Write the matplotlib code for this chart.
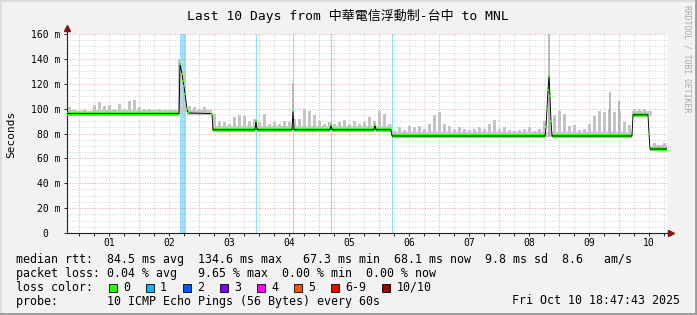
"""
Smokeping style latency graph: Last 10 Days, 中華電信浮動制-台中 -> MNL
Median rtt line, ping smoke, loss markers and the rrdtool style legend.
"""
import numpy as np
import matplotlib
matplotlib.use("Agg")
import matplotlib.pyplot as plt
from matplotlib.patches import Rectangle
from matplotlib.lines import Line2D

W, H = 697, 315
MONO = ["DejaVu Sans Mono", "Noto Sans CJK TC"]

# --- time axis: hours since graph start, 240 h = 10 days
first_midnight_h = 4.8
day_labels = ["01", "02", "03", "04", "05", "06", "07", "08", "09", "10"]

# --- median rtt (ms), breakpoints
med_h = [0, 44.8, 45.2, 46.0, 46.4, 46.8, 47.2, 48.0, 48.4, 58.0, 58.4,
         75.2, 75.6, 76.0, 90.0, 90.4, 90.8, 105.2, 105.6, 106.0,
         122.8, 123.2, 123.6, 129.6, 130.0, 191.2, 191.6, 192.0, 192.4,
         192.8, 193.2, 193.6, 194.0, 226.0, 226.4, 232.4, 232.8, 233.2, 240]
med_ms = [96, 96, 136, 128, 122, 118, 112, 100, 96.5, 96, 83,
          83, 90, 83, 83, 98, 83, 83, 87, 83,
          83, 87, 83, 83, 78, 78, 85, 100, 115,
          126, 110, 90, 78, 78, 95, 95, 80, 67.5, 67.5]

# --- smoke (spread of the 10 pings), 2 hour bins
smoke_low = ([95] * 22 + [95, 97] + [95] * 5 + [82] + [82] * 35
             + [77] * 48 + [94] * 4 + [66.5] * 3)
smoke_top = [101, 99, 98, 99, 98, 103, 105, 102, 103, 100, 104, 100, 106, 107,
             101, 100, 100, 99, 100, 99, 99, 99, 140, 130, 102, 101, 100, 101,
             99, 96,
             90, 89, 88, 93, 95, 94, 90, 92, 89, 96, 88, 89, 88, 90, 89, 92,
             92, 100, 98, 95, 90, 88, 89, 88, 89, 91, 88, 90, 88, 89, 93, 90,
             98, 96, 88,
             82, 85, 83, 86, 85, 86, 84, 88, 95, 97, 88, 86, 84, 85, 84, 83,
             84, 85, 84, 88, 91, 84, 85, 83,
             82, 83, 84, 85, 82, 84, 90, 100, 95, 98, 96, 86, 87, 83, 84, 88,
             94, 98, 97, 100, 97, 98, 89, 87, 100, 100, 100, 98, 72, 71, 72]
bin_hours = 2
# narrow smoke spikes
spike_h = [90.4, 192.8, 217.2, 220.8]
spike_low = [83, 78, 80, 80]
spike_top = [121, 162, 113, 106]

# --- packet loss markers (loss color 1)
loss_band = [(45.0, 47.4)]
loss_lines = [75.6, 90.4, 105.6, 130.0]

# --- legend
loss_labels = ["0", "1", "2", "3", "4", "5", "6-9", "10/10"]
loss_colors = ["#26ff00", "#00b8ff", "#0059ff", "#7e00ff", "#ff00ff",
               "#ff5500", "#ff0000", "#a10000"]
line_rtt = "median rtt:  84.5 ms avg  134.6 ms max   67.3 ms min  68.1 ms now  9.8 ms sd  8.6   am/s"
line_loss = "packet loss: 0.04 % avg   9.65 % max  0.00 % min  0.00 % now"
line_probe = "probe:       10 ICMP Echo Pings (56 Bytes) every 60s"
stamp = "Fri Oct 10 18:47:43 2025"
title = "Last 10 Days from 中華電信浮動制-台中 to MNL"

fig = plt.figure(figsize=(W / 100, H / 100), dpi=100, facecolor="#f2f2f2")
ax = fig.add_axes([67 / W, (H - 233) / H, 600 / W, 199 / H], facecolor="white")

# grid
midnights = [first_midnight_h + 24 * k for k in range(len(day_labels))]
ax.set_xticks(midnights)
ax.set_xticks(np.arange(first_midnight_h, 240, 6), minor=True)
ax.set_yticks(np.arange(0, 161, 20))
ax.set_yticks(np.arange(0, 161, 5), minor=True)
ax.grid(which="major", color="#e6a8a8", linestyle=(0, (1, 1.5)), linewidth=0.72, zorder=0)
ax.grid(which="minor", color="#d4d4d4", linestyle=(0, (1, 1.5)), linewidth=0.72, zorder=0)
ax.set_axisbelow(True)
ax.set_xlim(0, 240)
ax.set_ylim(0, 160)

# loss markers
for a, b in loss_band:
    ax.axvspan(a, b, color="#00b8ff", alpha=0.38, lw=0, zorder=1)
for h in loss_lines:
    ax.axvline(h, color="#00b8ff", alpha=0.45, lw=0.8, zorder=1)

# smoke: thin bars per bin so it keeps the spiky look
lo = np.array(smoke_low, dtype=float)
hi = np.array(smoke_top, dtype=float)
centers = (np.arange(len(hi)) + 0.5) * bin_hours
ax.stairs(np.minimum(hi, lo + 4), np.arange(len(hi) + 1) * bin_hours, baseline=lo,
          fill=True, color="#cacaca", zorder=2)
ax.bar(centers, hi - lo, bottom=lo, width=1.1, color="#c4c4c4", lw=0, zorder=2)
ax.vlines(spike_h, spike_low, spike_top, color="#b4b4b4", lw=1.3, zorder=2)

# median: green on flat stretches, black line on top
mh = np.array(med_h, dtype=float)
mv = np.array(med_ms, dtype=float)
flat = mv[:-1] == mv[1:]
ax.hlines(mv[:-1][flat], mh[:-1][flat], mh[1:][flat], color="#26ff00", lw=2.6, zorder=3)
ax.plot(mh, mv, color="black", lw=0.65, zorder=4)
pts = np.r_[False, (mv[1:-1] != mv[:-2]) & (mv[1:-1] != mv[2:]), False]
ax.plot(mh[pts], mv[pts], "s", color="#26ff00", ms=1.8, mew=0, zorder=5)

# axes
for s in ["top", "right"]:
    ax.spines[s].set_visible(False)
for s in ["left", "bottom"]:
    ax.spines[s].set_color("#222222")
    ax.spines[s].set_linewidth(0.8)
ax.add_line(Line2D([0, 0], [1, 1.03], transform=ax.transAxes, color="#222222",
                   lw=0.8, clip_on=False))
ax.add_line(Line2D([1, 1.004], [0, 0], transform=ax.transAxes, color="#222222",
                   lw=0.8, clip_on=False))
ax.plot([0], [1.03], marker="^", ms=4.5, color="#8b1010", transform=ax.transAxes, clip_on=False)
ax.plot([1.006], [0], marker=">", ms=4.5, color="#8b1010", transform=ax.transAxes, clip_on=False)

ax.tick_params(axis="x", which="both", length=2.2, width=0.7, color="#222222",
               labelbottom=False, direction="out")
ax.tick_params(axis="y", which="major", length=2, width=0.7, color="#222222",
               pad=2.8, labelsize=7)
ax.tick_params(axis="y", which="minor", length=0)
ylabels = [f"{v} m" if v else "0  " for v in range(0, 161, 20)]
ax.set_yticklabels(ylabels, family=MONO)

for k, lab in enumerate(day_labels):
    ax.text(midnights[k] + 12, -0.049, lab, transform=ax.get_xaxis_transform(),
            ha="center", va="center", fontsize=7, family=MONO)

fig.text(11 / W, 1 - 134 / H, "Seconds", rotation=90, ha="center", va="center",
         fontsize=8, family=MONO)
fig.text(348 / W, 1 - 15.5 / H, title, ha="center", va="center", fontsize=9.4, family=MONO)
fig.text(687 / W, 1 - 5 / H, "RRDTOOL / TOBI OETIKER", rotation=-90, ha="center", va="top",
         fontsize=5.9, color="#a8a8a8", family=MONO)

# legend block
fs = 8.4
cw = 7.0
fig.text(16 / W, 1 - 260 / H, line_rtt, ha="left", va="center", fontsize=fs, family=MONO)
fig.text(16 / W, 1 - 273.5 / H, line_loss, ha="left", va="center", fontsize=fs, family=MONO)
fig.text(16 / W, 1 - 287.5 / H, "loss color:", ha="left", va="center", fontsize=fs, family=MONO)
fig.text(16 / W, 1 - 301 / H, line_probe, ha="left", va="center", fontsize=fs, family=MONO)
fig.text(680 / W, 1 - 301 / H, stamp, ha="right", va="center", fontsize=fs, family=MONO)

x = 108.7
for lab, col in zip(loss_labels, loss_colors):
    fig.add_artist(Rectangle((x / W, 1 - 292.3 / H), 8 / W, 8 / H, transform=fig.transFigure,
                             facecolor=col, edgecolor="black", lw=0.6))
    fig.text((x + 14.3) / W, 1 - 287.5 / H, lab, ha="left", va="center", fontsize=fs, family=MONO)
    x += (len(lab) + 4.3) * cw

# rrdtool shaded frame
fig.add_artist(Line2D([0, 1], [1 - 1 / H, 1 - 1 / H], transform=fig.transFigure, color="#dcdcdc", lw=1.5))
fig.add_artist(Line2D([1 / W, 1 / W], [0, 1], transform=fig.transFigure, color="#dcdcdc", lw=1.5))
fig.add_artist(Line2D([0, 1], [1.5 / H, 1.5 / H], transform=fig.transFigure, color="#9b9b9b", lw=2))
fig.add_artist(Line2D([1 - 1.5 / W, 1 - 1.5 / W], [0, 1], transform=fig.transFigure, color="#9b9b9b", lw=2))

fig.savefig("out.png", dpi=100, facecolor=fig.get_facecolor())
